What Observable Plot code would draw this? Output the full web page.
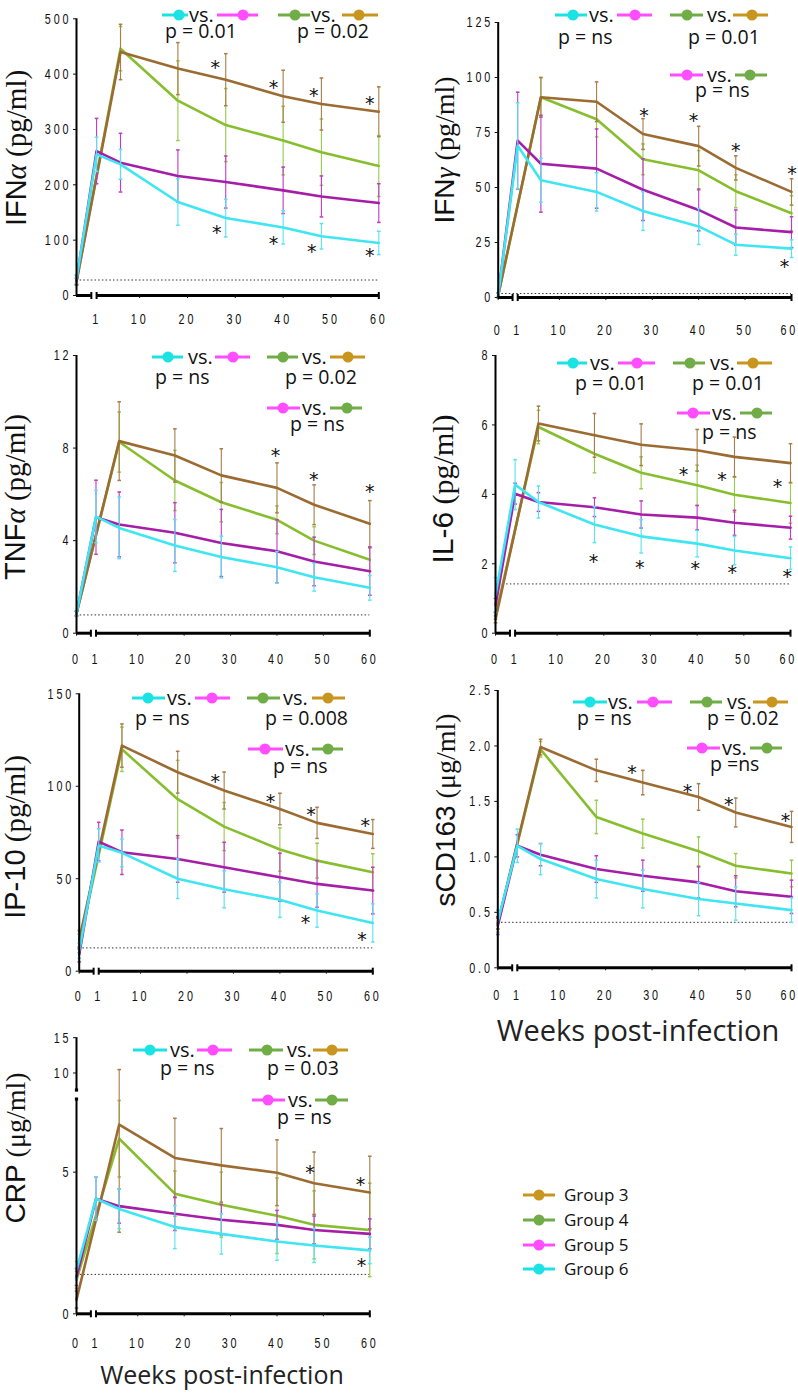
<!DOCTYPE html>
<html><head><meta charset="utf-8">
<script src="https://cdn.jsdelivr.net/npm/d3@7"></script>
<script src="https://cdn.jsdelivr.net/npm/@observablehq/plot@0.6"></script>
<style>
html,body{margin:0;padding:0;background:#fff;}
#chart{position:relative;width:798px;height:1393px;overflow:hidden;background:#fff;}
#chart svg{position:absolute;left:0;top:0;}
g[aria-label="x-axis tick label"] text, g[aria-label="y-axis tick label"] text{letter-spacing:4px;}
</style></head><body><div id="chart"></div>
<script>
// ---------- data ----------
const weeks = [0, 1, 6, 18, 28, 40, 48, 60];
const groupNames = ["Group 3", "Group 4", "Group 5", "Group 6"];
const lineColors = ["#9b6b32", "#86be2e", "#a61ea8", "#3fe6f2"];
const barColors = ["#a87d48", "#98ca4c", "#c23ac2", "#55e4f0"];
const keyColors = ["#c8961e", "#70ad47", "#ff4dff", "#1ce3e3"];
const weekTicks = [1, 10, 20, 30, 40, 50, 60];

// IFN-alpha (pg/ml)
const ifnaG3 = [25, null, 440, 410, 390, 360, 346, 332];
const ifnaG3Sem = [6, null, 50, 47, 47, 47, 47, 45];
const ifnaG4 = [25, null, 446, 352, 308, 280, 259, 234];
const ifnaG4Sem = [6, null, 40, 72, 66, 62, 60, 55];
const ifnaG5 = [28, 261, 240, 216, 205, 190, 179, 167];
const ifnaG5Sem = [8, 59, 53, 47, 47, 42, 37, 35];
const ifnaG6 = [30, 255, 237, 169, 140, 123, 107, 95];
const ifnaG6Sem = [8, 31, 27, 42, 34, 30, 23, 21];
const ifnaTicks = [0, 100, 200, 300, 400, 500];
const ifnaLimit = 28;
const ifnaStars = [[25.8, 421], [38, 385], [46.4, 370], [58.1, 355], [26.1, 123], [38, 102], [46, 87], [58.1, 81]];

// IFN-gamma (pg/ml)
const ifngG3 = [1, null, 91, 89, 74.3, 68.8, 58.9, 48];
const ifngG3Sem = [1, null, 9, 9, 7, 9, 5.5, 6];
const ifngG4 = [1, null, 91, 81, 62.8, 57.8, 48.3, 38.3];
const ifngG4Sem = [1, null, 9, 8, 7, 9, 7.5, 8];
const ifngG5 = [1, 71.3, 60.8, 58.6, 49, 39.8, 31.8, 29.7];
const ifngG5Sem = [1, 22, 22, 18, 14, 9.5, 8, 7];
const ifngG6 = [1, 69, 53.3, 48, 39.3, 32.3, 24, 22.2];
const ifngG6Sem = [1, 19.5, 10, 8.7, 8.8, 8.2, 4.8, 4];
const ifngTicks = [0, 25, 50, 75, 100, 125];
const ifngLimit = 1.8;
const ifngStars = [[28.2, 84.8], [38.9, 82.6], [48, 68.8], [60.1, 58.6], [58.5, 16.1]];

// TNF-alpha (pg/ml)
const tnfaG3 = [0.85, null, 8.3, 7.68, 6.82, 6.28, 5.55, 4.73];
const tnfaG3Sem = [0.1, null, 1.7, 1.15, 1.15, 1.08, 0.86, 1.0];
const tnfaG4 = [0.85, null, 8.26, 6.6, 5.66, 4.9, 4.0, 3.17];
const tnfaG4Sem = [0.1, null, 1.3, 1.3, 0.85, 0.6, 0.6, 0.5];
const tnfaG5 = [0.85, 5.01, 4.7, 4.34, 3.9, 3.54, 3.1, 2.68];
const tnfaG5Sem = [0.1, 1.6, 1.4, 1.3, 1.45, 1.36, 1.05, 1.04];
const tnfaG6 = [0.85, 5.04, 4.55, 3.79, 3.29, 2.85, 2.42, 1.96];
const tnfaG6Sem = [0.1, 1.13, 1.33, 1.12, 0.9, 0.68, 0.6, 0.53];
const tnfaTicks = [0, 4, 8, 12];
const tnfaLimit = 0.79;
const tnfaStars = [[39.7, 7.87], [47.9, 6.82], [60, 6.31]];

// IL-6 (pg/ml)
const il6G3 = [0.4, null, 6.04, 5.7, 5.43, 5.27, 5.08, 4.9];
const il6G3Sem = [0.1, null, 0.5, 0.63, 0.6, 0.6, 0.57, 0.56];
const il6G4 = [0.5, null, 5.94, 5.17, 4.62, 4.26, 3.99, 3.75];
const il6G4Sem = [0.1, null, 0.48, 0.55, 0.46, 0.58, 0.5, 0.58];
const il6G5 = [0.8, 4.02, 3.78, 3.63, 3.42, 3.33, 3.18, 3.04];
const il6G5Sem = [0.2, 0.3, 0.27, 0.27, 0.39, 0.35, 0.36, 0.33];
const il6G6 = [1.1, 4.28, 3.78, 3.13, 2.79, 2.58, 2.38, 2.16];
const il6G6Sem = [0.5, 0.72, 0.46, 0.52, 0.48, 0.38, 0.41, 0.32];
const il6Ticks = [0, 2, 4, 6, 8];
const il6Limit = 1.42;
const il6Stars = [[37.1, 4.69], [45.3, 4.55], [57.2, 4.36], [17.8, 2.21], [27.7, 2.02], [39.6, 2.0], [47.5, 1.88], [59.3, 1.76]];

// IP-10 (pg/ml)
const ip10G3 = [17, null, 122, 107.6, 97.7, 87.7, 80.2, 74.2];
const ip10G3Sem = [5, null, 11.7, 11.3, 10, 8.5, 8.4, 7.8];
const ip10G4 = [15, null, 120, 93, 78.2, 65.8, 59.8, 53.5];
const ip10G4Sem = [5, null, 12, 21, 13, 11.7, 9.4, 10];
const ip10G5 = [9, 70.1, 64.3, 60.7, 56.2, 50.8, 47.2, 43.6];
const ip10G5Sem = [4, 10.4, 12, 12.6, 13.5, 13, 12.6, 12.6];
const ip10G6 = [11, 68, 64, 50, 44.3, 38.6, 32.8, 26.1];
const ip10G6Sem = [4, 9, 7.5, 10.7, 10, 9.5, 9, 10.3];
const ip10Ticks = [0, 50, 100, 150];
const ip10Limit = 12.6;
const ip10Stars = [[26.1, 105.2], [38, 94.4], [46.7, 87.2], [58.4, 81.4], [45.5, 28.8], [57.7, 19.8]];

// sCD163 (ug/ml)
const scdG3 = [0.4, null, 1.99, 1.78, 1.67, 1.54, 1.40, 1.27];
const scdG3Sem = [0.05, null, 0.07, 0.1, 0.11, 0.12, 0.13, 0.14];
const scdG4 = [0.4, null, 1.97, 1.36, 1.21, 1.05, 0.92, 0.85];
const scdG4Sem = [0.05, null, 0.07, 0.15, 0.13, 0.13, 0.11, 0.12];
const scdG5 = [0.38, 1.10, 1.02, 0.89, 0.83, 0.77, 0.69, 0.64];
const scdG5Sem = [0.08, 0.1, 0.1, 0.12, 0.14, 0.14, 0.14, 0.15];
const scdG6 = [0.42, 1.10, 0.98, 0.80, 0.71, 0.62, 0.58, 0.52];
const scdG6Sem = [0.1, 0.15, 0.14, 0.17, 0.17, 0.15, 0.15, 0.11];
const scdTicks = [0, 0.5, 1, 1.5, 2, 2.5];
const scdLimit = 0.41;
const scdStars = [[25.7, 1.80], [37.6, 1.63], [46.5, 1.51], [58.7, 1.37]];

// CRP (ug/ml)
const crpG3 = [0.5, null, 6.68, 5.5, 5.24, 4.98, 4.61, 4.28];
const crpG3Sem = [0.3, null, 3.8, 1.4, 1.3, 1.16, 1.1, 1.28];
const crpG4 = [1.2, null, 6.18, 4.24, 3.85, 3.46, 3.14, 2.96];
const crpG4Sem = [0.3, null, 1.35, 0.8, 1.15, 1.33, 1.2, 1.65];
const crpG5 = [1.3, 4.06, 3.8, 3.53, 3.32, 3.14, 2.96, 2.82];
const crpG5Sem = [0.3, 0.76, 0.6, 0.59, 0.54, 0.51, 0.49, 0.53];
const crpG6 = [1.55, 4.06, 3.7, 3.06, 2.82, 2.55, 2.41, 2.24];
const crpG6Sem = [0.3, 0.76, 0.7, 0.76, 0.71, 0.66, 0.6, 0.47];
const crpTicks = [0, 5, 10, 15];
const crpLimit = 1.39;
const crpStars = [[47.1, 5.14], [58, 4.71], [58.2, 1.88]];

// ---------- helpers ----------
const X0 = -3.2;               // where week 0 sits on the broken axis
const xp = w => (w === 0 ? X0 : w);
const ident = v => v;
const crpBreak = 7.58, crpGap = 0.318, crpRatio = 0.249;
const crpT = v => (v <= crpBreak ? v : crpBreak + crpGap + (v - crpBreak) * crpRatio);

const SANS = "'Liberation Sans', Arial, sans-serif";
const SERIF = "'Liberation Serif', 'Times New Roman', serif";
const OPEN = "'Open Sans', 'Noto Sans', sans-serif";
const TICKFONT = "'Liberation Sans', Arial, sans-serif";

const hcap = {draw(ctx, size) { const r = Math.sqrt(size / Math.PI); ctx.moveTo(-r, 0); ctx.lineTo(r, 0); }};
const vcap = {draw(ctx, size) { const r = Math.sqrt(size / Math.PI); ctx.moveTo(0, -r); ctx.lineTo(0, r); }};

const panels = [
  {means: [ifnaG3, ifnaG4, ifnaG5, ifnaG6], sems: [ifnaG3Sem, ifnaG4Sem, ifnaG5Sem, ifnaG6Sem], ticks: ifnaTicks, fmt: d => String(d), limit: ifnaLimit, stars: ifnaStars,
   x0: 76, x60: 378.3, yZero: 295, yTop: 18.3, xPad: 15, zeroLabel: false,
   label: [[16, 148, 29], [["IFN", SANS], ["α", SERIF, "italic"], [" (pg/ml)", SERIF]]],
   keys: [{pair: [3, 2], m1: [162, 188, 179], vs: 189, m2: [217, 258, 243], y: 15, p: "p = 0.01", px: 165, py: 38},
          {pair: [1, 0], m1: [278, 310, 295], vs: 311, m2: [342, 378, 359], y: 15, p: "p = 0.02", px: 297, py: 38}]},
  {means: [ifngG3, ifngG4, ifngG5, ifngG6], sems: [ifngG3Sem, ifngG4Sem, ifngG5Sem, ifngG6Sem], ticks: ifngTicks, fmt: d => String(d), limit: ifngLimit, stars: ifngStars,
   x0: 497.7, x60: 791, yZero: 297, yTop: 22, xPad: 24, zeroLabel: true,
   label: [[444, 150, 28], [["IFN", SANS], ["γ", SERIF, "italic"], [" (pg/ml)", SERIF]]],
   keys: [{pair: [3, 2], m1: [555, 587, 573], vs: 589, m2: [617, 652, 635], y: 15, p: "p = ns", px: 558, py: 44},
          {pair: [1, 0], m1: [670, 703, 687], vs: 707, m2: [733, 768, 752], y: 15, p: "p = 0.01", px: 688, py: 44},
          {pair: [2, 1], m1: [670, 703, 687], vs: 707, m2: [735, 767, 750], y: 75, p: "p = ns", px: 695, py: 97}]},
  {means: [tnfaG3, tnfaG4, tnfaG5, tnfaG6], sems: [tnfaG3Sem, tnfaG4Sem, tnfaG5Sem, tnfaG6Sem], ticks: tnfaTicks, fmt: d => String(d), limit: tnfaLimit, stars: tnfaStars,
   x0: 76, x60: 369.3, yZero: 632.7, yTop: 355, xPad: 17, zeroLabel: true,
   label: [[15, 497, 29], [["TNF", SANS], ["α", SERIF, "italic"], [" (pg/ml)", SERIF]]],
   keys: [{pair: [3, 2], m1: [152, 183, 168], vs: 188, m2: [215, 250, 233], y: 357, p: "p = ns", px: 155, py: 384},
          {pair: [1, 0], m1: [267, 298, 283], vs: 302, m2: [330, 365, 348], y: 357, p: "p = 0.02", px: 285, py: 384},
          {pair: [2, 1], m1: [267, 300, 283], vs: 302, m2: [330, 362, 347], y: 408, p: "p = ns", px: 290, py: 431}]},
  {means: [il6G3, il6G4, il6G5, il6G6], sems: [il6G3Sem, il6G4Sem, il6G5Sem, il6G6Sem], ticks: il6Ticks, fmt: d => String(d), limit: il6Limit, stars: il6Stars,
   x0: 495, x60: 790, yZero: 632.7, yTop: 355, xPad: 17, zeroLabel: true,
   label: [[442, 489, 30], [["IL-6", SANS], [" (pg/ml)", SERIF]]],
   keys: [{pair: [3, 2], m1: [557, 587, 573], vs: 590, m2: [618, 655, 637], y: 363, p: "p = 0.01", px: 575, py: 390},
          {pair: [1, 0], m1: [673, 705, 690], vs: 710, m2: [737, 772, 753], y: 363, p: "p = 0.01", px: 692, py: 390},
          {pair: [2, 1], m1: [677, 710, 693], vs: 712, m2: [740, 772, 757], y: 413, p: "p = ns", px: 702, py: 439}]},
  {means: [ip10G3, ip10G4, ip10G5, ip10G6], sems: [ip10G3Sem, ip10G4Sem, ip10G5Sem, ip10G6Sem], ticks: ip10Ticks, fmt: d => String(d), limit: ip10Limit, stars: ip10Stars,
   x0: 78.7, x60: 372.3, yZero: 970.7, yTop: 693.3, xPad: 16, zeroLabel: true,
   label: [[15, 837, 29], [["IP-10", SANS], [" (pg/ml)", SERIF]]],
   keys: [{pair: [3, 2], m1: [132, 165, 148], vs: 167, m2: [195, 230, 212], y: 698, p: "p = ns", px: 135, py: 725},
          {pair: [1, 0], m1: [247, 280, 263], vs: 283, m2: [312, 345, 328], y: 698, p: "p = 0.008", px: 265, py: 725},
          {pair: [2, 1], m1: [248, 283, 265], vs: 285, m2: [312, 343, 328], y: 749, p: "p = ns", px: 273, py: 773}]},
  {means: [scdG3, scdG4, scdG5, scdG6], sems: [scdG3Sem, scdG4Sem, scdG5Sem, scdG6Sem], ticks: scdTicks, fmt: d => d.toFixed(1), limit: scdLimit, stars: scdStars,
   x0: 497.3, x60: 791, yZero: 967.3, yTop: 690, xPad: 19, zeroLabel: true,
   label: [[445, 810, 28], [["sCD163", SANS], [" (μg/ml)", SERIF]]],
   keys: [{pair: [3, 2], m1: [573, 607, 590], vs: 608, m2: [637, 672, 653], y: 702, p: "p = ns", px: 577, py: 725},
          {pair: [1, 0], m1: [690, 722, 707], vs: 727, m2: [753, 788, 772], y: 702, p: "p = 0.02", px: 707, py: 725},
          {pair: [2, 1], m1: [687, 720, 702], vs: 722, m2: [750, 782, 767], y: 748, p: "p =ns", px: 710, py: 771}]},
  {means: [crpG3, crpG4, crpG5, crpG6], sems: [crpG3Sem, crpG4Sem, crpG5Sem, crpG6Sem], ticks: crpTicks, fmt: d => String(d), limit: crpLimit, stars: crpStars,
   x0: 76, x60: 369.3, yZero: 1313.3, yTop: 1037.2, xPad: 20.5, zeroLabel: true, broken: true,
   label: [[15, 1148, 28], [["CRP", SANS], [" (μg/ml)", SERIF]]],
   keys: [{pair: [3, 2], m1: [133, 167, 150], vs: 170, m2: [197, 232, 213], y: 1050, p: "p = ns", px: 160, py: 1075},
          {pair: [1, 0], m1: [249, 283, 267], vs: 287, m2: [313, 348, 332], y: 1050, p: "p = 0.03", px: 267, py: 1075},
          {pair: [2, 1], m1: [252, 285, 268], vs: 288, m2: [315, 348, 332], y: 1100, p: "p = ns", px: 277, py: 1124}]}
];

const chart = document.getElementById("chart");

function marker(sel, m, color) {
  sel.append("line").attr("x1", m[0]).attr("x2", m[1]).attr("y1", 0).attr("y2", 0)
    .attr("stroke", color).attr("stroke-width", 3);
  sel.append("circle").attr("cx", m[2]).attr("cy", 0).attr("r", 5.5).attr("fill", color);
}

function condense(s, rightEdge) {
  s.selectAll('g[aria-label="x-axis tick label"] text, g[aria-label="y-axis tick label"] text').each(function () {
    let tr = this.getAttribute("transform");
    if (!tr) {
      const x = +(this.getAttribute("x") || 0), y = +(this.getAttribute("y") || 0);
      this.removeAttribute("x"); this.removeAttribute("y");
      tr = `translate(${x},${y})`;
    }
    this.setAttribute("transform", tr + " scale(0.72,1)");
  });
  // keep the last week label inside the page
  if (rightEdge > 785) {
    s.selectAll('g[aria-label="x-axis tick label"] text').filter(function () { return this.textContent === "60"; })
      .attr("dx", -3);
  }
}

panels.forEach(P => {
  const yT = P.broken ? crpT : ident;
  const ymax = yT(P.ticks[P.ticks.length - 1]);
  const rows = [];
  P.means.forEach((arr, g) => arr.forEach((v, i) => {
    if (v == null) return;
    const e = P.sems[g][i];
    rows.push({g, week: weeks[i], v, lo: v - e, hi: v + e});
  }));
  const order = [1, 0, 2, 3];
  const dataMarks = [];
  order.forEach(g => {
    const r = rows.filter(d => d.g === g);
    dataMarks.push(
      Plot.ruleX(r, {x: d => xp(d.week), y1: d => yT(d.lo), y2: d => yT(d.hi), stroke: barColors[g], strokeWidth: 1.1}),
      Plot.dot(r, {x: d => xp(d.week), y: d => yT(d.lo), symbol: hcap, r: 1.8, stroke: barColors[g], strokeWidth: 1.5}),
      Plot.dot(r, {x: d => xp(d.week), y: d => yT(d.hi), symbol: hcap, r: 1.8, stroke: barColors[g], strokeWidth: 1.5}),
      Plot.line(r, {x: d => xp(d.week), y: d => yT(d.v), stroke: lineColors[g], strokeWidth: 2.6})
    );
  });
  const yTicksT = P.ticks.map(yT);
  const tickLabel = new Map(P.ticks.map(t => [yT(t), P.fmt(t)]));
  const xTicks = P.zeroLabel ? [X0, ...weekTicks] : weekTicks;

  const axisMarks = P.broken ? [
    Plot.ruleX([X0], {y1: 0, y2: crpBreak, stroke: "#000", strokeWidth: 2}),
    Plot.ruleX([X0], {y1: crpBreak + crpGap, y2: ymax, stroke: "#000", strokeWidth: 2}),
    Plot.dot([crpBreak, crpBreak + crpGap], {x: X0, y: d => d, symbol: "square", r: 1.8, fill: "#000"})
  ] : [
    Plot.ruleX([X0], {y1: 0, y2: ymax, stroke: "#000", strokeWidth: 2})
  ];

  const svg = Plot.plot({
    width: 798, height: 1393,
    marginLeft: P.x0, marginRight: 798 - P.x60, marginTop: P.yTop, marginBottom: 1393 - P.yZero,
    x: {domain: [X0, 60]},
    y: {domain: [0, ymax]},
    style: {background: "transparent", fontFamily: TICKFONT, fontSize: "15px", color: "#111", overflow: "visible"},
    marks: [
      Plot.ruleY([yT(P.limit)], {x1: X0, x2: 60, stroke: "#333", strokeWidth: 1, strokeDasharray: "1.5,2.2"}),
      ...dataMarks,
      Plot.text(P.stars, {x: d => d[0], y: d => yT(d[1]), text: () => "*", fontSize: 19, fontFamily: "'DejaVu Sans', sans-serif", fill: "#111", dy: 5}),
      ...axisMarks,
      Plot.ruleY([0], {x1: X0, x2: -0.1, stroke: "#000", strokeWidth: 3}),
      Plot.ruleY([0], {x1: 1, x2: 60, stroke: "#000", strokeWidth: 3}),
      Plot.dot([-0.1, 1, 60], {x: d => d, y: 0, symbol: vcap, r: 3.5, stroke: "#000", strokeWidth: 2}),
      Plot.axisY({ticks: yTicksT, tickFormat: d => tickLabel.get(d), tickSize: 3, tickPadding: 2, label: null}),
      Plot.axisX({ticks: xTicks, tickFormat: d => (d === X0 ? "0" : String(d)), tickSize: 3, tickPadding: P.xPad, label: null})
    ]
  });
  chart.appendChild(svg);
  const s = d3.select(svg);
  condense(s, P.x60);

  // y label (name in sans, Greek in italic serif, unit in serif)
  const [c, parts] = P.label;
  const t = s.append("text").attr("transform", `translate(${c[0]},${c[1]}) rotate(-90)`)
    .attr("text-anchor", "middle").attr("dominant-baseline", "central")
    .attr("font-size", c[2]).attr("fill", "#111");
  parts.forEach(p => t.append("tspan").attr("font-family", p[1]).attr("font-style", p[2] || null).text(p[0]));

  // comparison keys
  P.keys.forEach(k => {
    const g = s.append("g").attr("transform", `translate(0,${k.y})`);
    marker(g, k.m1, keyColors[k.pair[0]]);
    marker(g, k.m2, keyColors[k.pair[1]]);
    g.append("text").attr("x", k.vs).attr("y", 7).attr("text-anchor", "start").attr("font-family", OPEN).attr("font-size", 20).attr("fill", "#111").text("vs.");
    s.append("text").attr("x", k.px).attr("y", k.py).attr("text-anchor", "start").attr("font-family", OPEN).attr("font-size", 19.5).attr("fill", "#111").text(k.p);
  });
});

// shared annotations
const last = d3.select(chart.lastChild);
last.append("text").attr("x", 222).attr("y", 1384).attr("text-anchor", "middle")
  .attr("font-family", OPEN).attr("font-size", 25).attr("fill", "#222").text("Weeks post-infection");
last.append("text").attr("x", 638).attr("y", 1041).attr("text-anchor", "middle")
  .attr("font-family", OPEN).attr("font-size", 29).attr("fill", "#222").text("Weeks post-infection");
const legendYs = [1195, 1220, 1245, 1269];
groupNames.forEach((name, i) => {
  const g = last.append("g").attr("transform", `translate(0,${legendYs[i]})`);
  marker(g, [523, 555, 539], keyColors[i]);
  g.append("text").attr("x", 564).attr("y", 6).attr("text-anchor", "start").attr("font-family", OPEN).attr("font-size", 17).attr("fill", "#111").text(name);
});
</script></body></html>
